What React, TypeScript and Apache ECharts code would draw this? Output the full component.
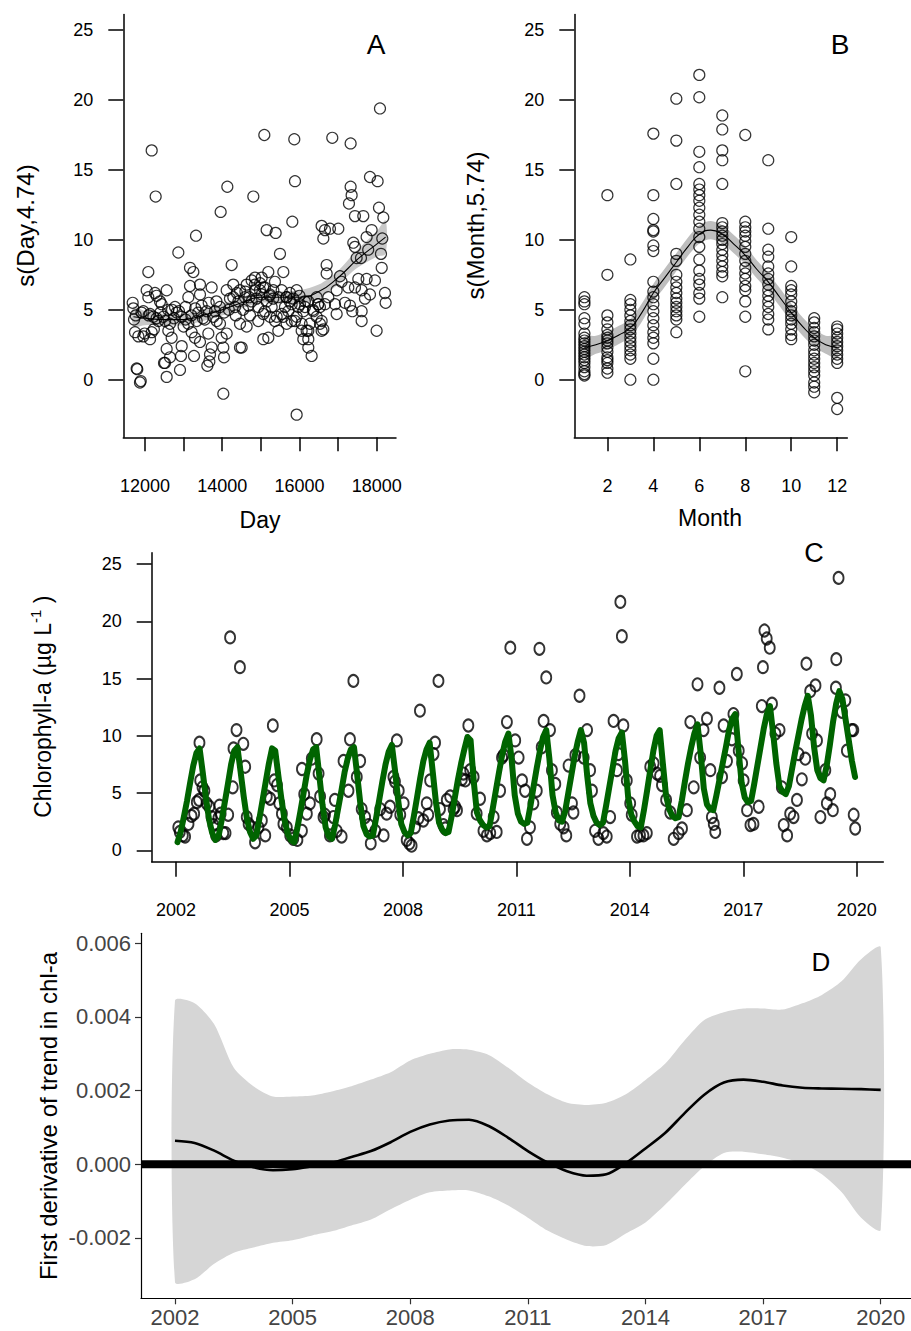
import React, { useEffect, useRef } from "react";
import * as echarts from "echarts";

const FONT = '"Liberation Sans", Arial, Helvetica, sans-serif';

// ---------- Panel A: partial residuals vs Day ----------
const dayResiduals: [number, number][] = [
  [11681, 5.5], [11698, 5.1], [11716, 4.3], [11741, 3.4], [11760, 4.6], [11784, 0.8], [11800, 0.75], [11828, 3.1],
  [11870, -0.2], [11890, -0.1], [11910, 4.8], [11957, 3.1], [11957, 4.9], [11990, 3.3], [12043, 6.4], [12086, 7.7],
  [12086, 5.9], [12095, 4.6], [12130, 2.9], [12130, 4.7], [12173, 16.4], [12173, 3.4], [12216, 4.5], [12230, 3.6],
  [12259, 6.2], [12276, 13.1], [12300, 6.0], [12345, 4.2], [12388, 5.6], [12431, 5.4], [12475, 4.5], [12492, 1.2],
  [12518, 1.2], [12561, 0.2], [12561, 2.2], [12561, 6.4], [12604, 3.5], [12647, 4.0], [12647, 1.6], [12690, 3.0],
  [12700, 5.0], [12777, 5.2], [12820, 4.8], [12863, 9.1], [12906, 0.7], [12932, 1.7], [12950, 2.4], [12950, 4.5],
  [13000, 3.8], [13050, 4.3], [13122, 4.0], [13122, 5.9], [13165, 8.0], [13165, 6.7], [13208, 3.4], [13252, 7.7],
  [13269, 1.7], [13295, 3.0], [13321, 10.3], [13338, 4.2], [13380, 4.8], [13424, 6.1], [13424, 6.8], [13424, 2.7],
  [13467, 5.3], [13500, 4.4], [13597, 4.9], [13614, 1.0], [13640, 3.3], [13666, 1.3], [13683, 1.8], [13726, 2.3],
  [13726, 6.6], [13770, 4.5], [13813, 4.9], [13856, 4.2], [13942, 5.2], [13942, 4.0], [13959, 12.0], [13985, 3.0],
  [14028, 2.3], [14028, -1.0], [14046, 1.6], [14115, 3.3], [14115, 6.4], [14132, 13.8], [14170, 5.0], [14244, 8.2],
  [14287, 6.8], [14287, 5.9], [14330, 5.2], [14380, 6.2], [14420, 5.6], [14460, 4.0], [14460, 2.3], [14460, 6.4],
  [14503, 2.3], [14540, 5.0], [14589, 5.9], [14632, 3.8], [14632, 6.8], [14680, 5.3], [14720, 4.6], [14762, 5.6],
  [14762, 7.1], [14805, 13.1], [14848, 7.3], [14848, 6.4], [14890, 5.8], [14934, 5.2], [14980, 6.9], [15021, 7.3],
  [15021, 6.1], [15064, 2.9], [15064, 4.7], [15090, 17.5], [15107, 6.6], [15150, 10.7], [15150, 5.6], [15193, 7.7],
  [15193, 3.0], [15230, 6.0], [15280, 5.2], [15320, 5.8], [15366, 7.0], [15383, 10.5], [15409, 4.5], [15452, 3.5],
  [15495, 9.0], [15539, 4.7], [15582, 7.7], [15625, 5.2], [15660, 5.9], [15711, 4.9], [15750, 5.6], [15797, 5.4],
  [15815, 11.3], [15866, 17.2], [15884, 14.2], [15884, 4.2], [15927, -2.5], [15970, 5.2], [16000, 6.0], [16057, 4.0],
  [16099, 4.9], [16140, 5.6], [16186, 3.5], [16229, 2.9], [16229, 2.3], [16272, 4.0], [16315, 1.7], [16350, 5.0],
  [16445, 5.9], [16480, 5.4], [16531, 5.2], [16574, 11.0], [16574, 4.2], [16574, 3.5], [16618, 10.1], [16661, 10.7],
  [16661, 5.4], [16704, 8.2], [16704, 7.6], [16747, 5.9], [16790, 10.8], [16850, 17.3], [16920, 5.4], [16963, 6.4],
  [16963, 4.7], [17006, 10.8], [17049, 7.4], [17090, 7.0], [17178, 5.5], [17265, 6.6], [17282, 12.6], [17308, 5.3],
  [17325, 16.9], [17325, 13.8], [17351, 13.2], [17370, 4.9], [17394, 9.8], [17437, 11.7], [17437, 9.5], [17437, 6.6],
  [17480, 8.7], [17524, 7.2], [17593, 8.7], [17610, 6.4], [17610, 4.9], [17610, 4.2], [17653, 11.7], [17696, 5.8],
  [17739, 10.2], [17739, 7.2], [17780, 9.3], [17826, 14.5], [17826, 6.1], [17869, 10.7], [17955, 7.1], [17998, 3.5],
  [18024, 14.2], [18059, 12.3], [18085, 19.4], [18111, 9.0], [18130, 8.0], [18145, 10.1], [18171, 11.6], [18214, 6.2],
  [18232, 5.5],
  [14848, 6.8], [14977, 6.4], [15064, 6.6], [15236, 6.1], [15323, 6.4], [15452, 5.9], [15539, 6.4], [15668, 5.9],
  [15754, 6.2], [15840, 5.8], [15927, 6.4], [16013, 5.4], [16143, 5.2], [16229, 5.6], [16359, 4.9], [16445, 4.5],
  [16531, 4.0], [16618, 3.6], [16488, 5.4], [15927, 4.5], [15797, 4.2], [15668, 4.0], [15582, 4.5], [15366, 4.2],
  [15236, 4.5], [15107, 4.9], [14934, 4.2], [16057, 3.5], [16229, 3.5], [16100, 2.9],
  [12300, 4.4], [12400, 4.8], [12520, 4.2], [12600, 5.0], [12750, 4.4], [12880, 4.9], [13050, 5.2], [13200, 4.6],
  [13300, 5.1], [13550, 4.3], [13650, 5.5], [13850, 5.6], [14050, 4.8], [14200, 5.8], [14350, 4.6], [14600, 6.3],
  [14700, 5.9],
];
const daySmoothDay = [11700, 12000, 12500, 13000, 13500, 14000, 14500, 15000, 15500, 16000, 16500, 17000, 17500, 18000, 18230];
const daySmoothFit = [4.5, 4.4, 4.3, 4.3, 4.6, 5.0, 5.5, 5.9, 5.9, 5.9, 6.3, 7.3, 8.6, 9.7, 10.2];
const daySmoothLo = [3.8, 3.9, 3.9, 3.9, 4.2, 4.6, 5.1, 5.5, 5.5, 5.4, 5.8, 6.8, 8.0, 8.8, 9.0];
const daySmoothHi = [5.2, 4.9, 4.7, 4.7, 5.0, 5.4, 5.9, 6.3, 6.3, 6.4, 6.8, 7.8, 9.3, 10.6, 11.4];
const dayTicks = [12000, 13000, 14000, 15000, 16000, 17000, 18000];
const dayLabels = [12000, 14000, 16000, 18000];
const residTicks = [0, 5, 10, 15, 20, 25];

// ---------- Panel B: partial residuals vs Month ----------
const monthResiduals: number[][] = [
  [5.9, 5.6, 5.4, 4.4, 4.0, 3.3, 3.0, 2.8, 2.6, 2.4, 2.2, 2.0, 1.8, 1.6, 1.4, 1.2, 0.9, 0.6, 0.4, 0.3],
  [13.2, 7.5, 4.6, 4.1, 3.6, 3.2, 3.0, 2.8, 2.6, 2.3, 2.0, 1.6, 1.4, 1.2, 0.8, 0.5],
  [8.6, 5.7, 5.4, 5.0, 4.6, 4.2, 3.9, 3.6, 3.3, 3.0, 2.7, 2.4, 2.1, 1.8, 1.5, 0.0],
  [17.6, 13.2, 11.5, 10.7, 10.6, 9.6, 9.2, 7.0, 6.3, 5.9, 5.4, 4.9, 4.4, 3.9, 3.4, 3.0, 2.6, 1.5, 0.0],
  [20.1, 17.1, 14.0, 9.0, 8.5, 7.5, 7.0, 6.6, 6.2, 5.8, 5.5, 5.2, 4.9, 4.6, 4.3, 3.4],
  [21.8, 20.2, 16.3, 15.2, 14.0, 13.6, 13.2, 12.8, 12.3, 11.8, 11.3, 10.8, 10.2, 9.5, 8.6, 7.8, 7.2, 6.8, 6.2, 5.8, 4.5],
  [18.9, 17.9, 16.4, 15.7, 14.0, 11.2, 10.9, 10.6, 10.3, 10.0, 9.7, 9.3, 8.9, 8.5, 8.1, 7.7, 7.4, 5.9],
  [17.5, 11.3, 10.9, 10.6, 10.3, 9.9, 9.5, 9.0, 8.5, 8.0, 7.6, 7.2, 6.7, 6.4, 5.6, 4.5, 0.6],
  [15.7, 10.8, 9.3, 8.8, 8.1, 7.6, 7.2, 6.8, 6.4, 6.0, 5.6, 5.2, 4.7, 4.3, 3.6],
  [10.2, 8.1, 6.7, 6.4, 6.1, 5.6, 5.2, 4.9, 4.6, 4.3, 4.0, 3.6, 3.2, 2.9],
  [4.4, 4.1, 3.7, 3.4, 3.1, 2.8, 2.5, 2.1, 1.8, 1.5, 1.2, 0.9, 0.6, 0.3, -0.2, -0.5, -0.9],
  [3.8, 3.6, 3.3, 3.0, 2.7, 2.4, 2.1, 1.8, 1.5, 1.2, -1.3, -2.1],
];
const monthGrid = [1, 1.5, 2, 2.5, 3, 3.5, 4, 4.5, 5, 5.5, 6, 6.5, 7, 7.5, 8, 8.5, 9, 9.5, 10, 10.5, 11, 11.5, 12];
const monthFit = [2.3, 2.5, 2.8, 3.2, 3.7, 4.8, 6.2, 7.3, 8.4, 9.5, 10.4, 10.7, 10.4, 9.7, 8.9, 7.9, 7.0, 5.9, 4.8, 3.8, 3.0, 2.5, 2.3];
const monthLo = [1.55, 1.85, 2.15, 2.55, 3.05, 4.15, 5.55, 6.65, 7.75, 8.85, 9.75, 10.05, 9.75, 9.05, 8.25, 7.25, 6.35, 5.25, 4.15, 3.15, 2.35, 1.85, 1.55];
const monthHi = [3.05, 3.15, 3.45, 3.85, 4.35, 5.45, 6.85, 7.95, 9.05, 10.15, 11.05, 11.35, 11.05, 10.35, 9.55, 8.55, 7.65, 6.55, 5.45, 4.45, 3.65, 3.15, 3.05];
const monthLabels = [2, 4, 6, 8, 10, 12];

// ---------- Panel C: observed chlorophyll-a and fitted values ----------
const chlObs: [number, number][] = [
  [2002.06, 2.0], [2002.10, 1.6], [2002.18, 1.3], [2002.24, 1.2], [2002.33, 2.3], [2002.41, 3.0], [2002.48, 3.2], [2002.55, 4.2],
  [2002.61, 4.4], [2002.62, 9.4], [2002.64, 6.1], [2002.70, 5.5], [2002.75, 5.2], [2002.81, 4.1], [2002.88, 3.8], [2002.94, 2.9],
  [2002.99, 2.2], [2003.06, 1.3], [2003.12, 2.8], [2003.15, 3.9], [2003.18, 3.2], [2003.25, 1.5], [2003.31, 1.5], [2003.38, 3.1],
  [2003.43, 18.6], [2003.50, 5.5], [2003.52, 8.9], [2003.60, 10.5], [2003.69, 16.0], [2003.78, 9.3], [2003.83, 7.3], [2003.87, 2.9],
  [2003.92, 2.3], [2004.00, 2.0], [2004.09, 0.7], [2004.18, 2.0], [2004.27, 2.6], [2004.36, 1.3], [2004.40, 4.7], [2004.49, 4.5],
  [2004.56, 10.9], [2004.60, 6.1], [2004.67, 5.7], [2004.73, 4.1], [2004.80, 3.2], [2004.84, 2.3], [2004.93, 2.0], [2005.02, 1.3],
  [2005.10, 1.0], [2005.21, 0.9], [2005.33, 1.7], [2005.33, 7.1], [2005.39, 4.9], [2005.46, 3.2], [2005.54, 4.1], [2005.59, 8.0],
  [2005.72, 9.7], [2005.77, 6.7], [2005.81, 4.7], [2005.90, 2.9], [2005.94, 3.1], [2006.07, 1.3], [2006.16, 2.9], [2006.20, 4.4],
  [2006.25, 1.7], [2006.38, 1.2], [2006.43, 7.8], [2006.56, 5.2], [2006.60, 9.7], [2006.69, 14.8], [2006.78, 6.4], [2006.87, 7.8],
  [2006.91, 3.6], [2007.00, 2.9], [2007.09, 2.2], [2007.15, 0.6], [2007.27, 1.7], [2007.40, 3.6], [2007.49, 1.3], [2007.57, 3.2],
  [2007.66, 3.8], [2007.75, 6.4], [2007.79, 6.0], [2007.84, 9.6], [2007.89, 5.2], [2007.93, 3.1], [2008.02, 4.1], [2008.10, 0.9],
  [2008.17, 0.6], [2008.23, 0.4], [2008.32, 2.0], [2008.41, 2.8], [2008.45, 12.2], [2008.54, 2.6], [2008.63, 4.1], [2008.67, 3.1],
  [2008.72, 6.1], [2008.81, 8.4], [2008.85, 9.4], [2008.94, 14.8], [2008.98, 3.6], [2009.07, 2.2], [2009.12, 1.9], [2009.16, 4.4],
  [2009.25, 4.7], [2009.34, 3.6], [2009.38, 3.8], [2009.43, 3.5], [2009.56, 6.2], [2009.60, 6.7], [2009.65, 6.1], [2009.73, 10.9],
  [2009.78, 7.0], [2009.87, 6.4], [2009.95, 3.2], [2010.04, 4.5], [2010.13, 1.7], [2010.22, 1.3], [2010.31, 1.5], [2010.40, 2.9],
  [2010.48, 1.6], [2010.57, 5.2], [2010.62, 8.1], [2010.66, 8.3], [2010.75, 11.2], [2010.84, 17.7], [2010.97, 9.6], [2011.06, 8.1],
  [2011.15, 6.1], [2011.23, 5.2], [2011.28, 1.0], [2011.36, 2.0], [2011.45, 4.1], [2011.54, 5.2], [2011.61, 17.6], [2011.67, 9.0],
  [2011.72, 11.3], [2011.79, 15.1], [2011.89, 10.5], [2011.94, 7.0], [2012.03, 5.8], [2012.07, 3.3], [2012.16, 2.3], [2012.25, 2.0],
  [2012.32, 1.3], [2012.38, 7.4], [2012.47, 4.1], [2012.51, 3.3], [2012.56, 8.3], [2012.67, 13.5], [2012.78, 8.1], [2012.87, 10.5],
  [2012.95, 7.0], [2013.00, 5.2], [2013.08, 1.7], [2013.17, 1.0], [2013.30, 1.5], [2013.39, 1.2], [2013.48, 2.9], [2013.57, 11.3],
  [2013.66, 7.0], [2013.70, 8.4], [2013.75, 21.7], [2013.79, 18.7], [2013.83, 10.9], [2013.92, 6.1], [2014.01, 4.1], [2014.05, 3.1],
  [2014.19, 1.2], [2014.27, 1.3], [2014.36, 1.3], [2014.45, 1.5], [2014.54, 7.3], [2014.63, 7.6], [2014.72, 6.7], [2014.80, 6.5],
  [2014.85, 5.7], [2014.96, 4.4], [2015.07, 3.3], [2015.16, 1.0], [2015.29, 1.5], [2015.38, 1.9], [2015.51, 3.5], [2015.60, 11.2],
  [2015.69, 5.5], [2015.79, 14.5], [2015.86, 8.1], [2015.95, 10.5], [2016.04, 11.5], [2016.13, 7.0], [2016.17, 2.9], [2016.22, 2.3],
  [2016.26, 1.6], [2016.37, 14.2], [2016.44, 6.4], [2016.48, 10.9], [2016.57, 7.8], [2016.70, 9.7], [2016.74, 11.9], [2016.83, 15.4],
  [2016.88, 8.7], [2016.97, 7.6], [2017.01, 6.1], [2017.10, 3.5], [2017.19, 2.2], [2017.27, 2.3], [2017.41, 3.8], [2017.49, 12.6],
  [2017.52, 16.0], [2017.56, 19.2], [2017.62, 18.5], [2017.70, 17.7], [2017.76, 12.8], [2017.85, 10.2], [2017.96, 10.5], [2018.02, 5.5],
  [2018.07, 2.2], [2018.16, 1.3], [2018.24, 3.2], [2018.33, 2.9], [2018.42, 4.4], [2018.46, 8.4], [2018.55, 6.2], [2018.64, 8.0],
  [2018.67, 16.3], [2018.77, 13.9], [2018.82, 10.2], [2018.91, 14.4], [2018.95, 9.6], [2019.04, 2.9], [2019.17, 7.0], [2019.21, 4.1],
  [2019.30, 4.9], [2019.37, 3.5], [2019.45, 14.2], [2019.46, 16.7], [2019.52, 23.8], [2019.61, 12.1], [2019.70, 13.1], [2019.74, 8.7],
  [2019.87, 10.5], [2019.91, 10.5], [2019.92, 3.1], [2019.96, 1.9],
];
const fitYears = [2002, 2003, 2004, 2005, 2006, 2007, 2008, 2009, 2010, 2011, 2012, 2013, 2014, 2015, 2016, 2017, 2018, 2019];
const fitMonthly: number[][] = [
  [0.7, 1.6, 2.9, 4.3, 5.9, 7.4, 8.5, 8.9, 6.8, 4.6, 2.7, 1.5],
  [0.9, 1.2, 2.6, 4.2, 5.8, 7.5, 8.7, 9.0, 6.9, 4.7, 2.8, 1.6],
  [1.0, 1.3, 2.8, 4.4, 6.0, 7.6, 8.9, 8.7, 6.5, 4.4, 2.6, 1.4],
  [0.9, 0.7, 1.9, 3.4, 5.0, 6.6, 7.9, 8.8, 9.0, 6.5, 4.0, 2.0],
  [1.2, 1.0, 2.2, 3.7, 5.2, 6.8, 8.0, 8.8, 9.0, 6.6, 4.1, 2.1],
  [1.4, 1.2, 1.3, 2.8, 4.4, 6.0, 7.5, 8.6, 9.2, 7.0, 4.4, 2.3],
  [1.6, 1.3, 1.5, 3.0, 4.6, 6.3, 7.8, 8.8, 9.4, 6.8, 4.2, 2.4],
  [1.8, 1.5, 1.6, 3.0, 4.6, 6.2, 7.6, 8.8, 9.9, 9.6, 6.0, 3.3],
  [2.6, 2.2, 2.0, 2.1, 3.6, 5.2, 6.8, 8.3, 9.5, 10.2, 8.0, 4.8],
  [3.2, 2.5, 2.3, 2.4, 3.9, 5.6, 7.2, 8.7, 9.9, 10.5, 8.0, 4.8],
  [3.3, 2.6, 2.5, 3.4, 5.0, 6.6, 8.2, 9.5, 10.5, 9.4, 6.5, 4.1],
  [3.0, 2.4, 2.2, 2.4, 3.9, 5.5, 7.1, 8.7, 9.8, 10.3, 7.8, 4.6],
  [3.1, 2.5, 2.1, 2.0, 3.5, 5.2, 7.0, 8.7, 10.0, 10.5, 7.6, 4.8],
  [3.6, 3.0, 2.8, 2.9, 4.3, 6.0, 7.6, 9.0, 10.2, 11.0, 8.5, 5.4],
  [4.0, 3.6, 3.5, 4.8, 6.2, 7.6, 9.0, 10.5, 11.5, 11.9, 8.8, 5.9],
  [4.6, 4.2, 4.3, 5.8, 7.4, 9.0, 10.6, 11.9, 12.6, 10.2, 7.6, 5.6],
  [5.1, 4.9, 5.6, 7.1, 8.6, 10.0, 11.4, 12.6, 13.5, 11.8, 9.0, 7.0],
  [6.3, 6.1, 7.4, 9.2, 11.2, 12.8, 13.9, 13.2, 11.4, 9.6, 7.8, 6.4],
];
const chlTicks = [2002, 2005, 2008, 2011, 2014, 2017, 2020];
const chlYTicks = [0, 5, 10, 15, 20, 25];

// ---------- Panel D: first derivative of trend ----------
const derivYears = [2002, 2002.5, 2003, 2003.5, 2004, 2004.5, 2005, 2005.5, 2006, 2006.5, 2007, 2007.5, 2008, 2008.5, 2009, 2009.5,
  2010, 2010.5, 2011, 2011.5, 2012, 2012.5, 2013, 2013.5, 2014, 2014.5, 2015, 2015.5, 2016, 2016.5, 2017, 2017.5, 2018, 2018.5,
  2019, 2019.5, 2020];
const derivUpper = [0.00444, 0.00437, 0.0038, 0.00262, 0.00212, 0.00184, 0.00184, 0.00187, 0.00198, 0.00212, 0.0023, 0.0025,
  0.00282, 0.003, 0.00312, 0.00311, 0.00297, 0.00262, 0.00222, 0.0019, 0.00167, 0.00161, 0.00167, 0.0019, 0.00229, 0.00273,
  0.00337, 0.00392, 0.00413, 0.00423, 0.00423, 0.0042, 0.00437, 0.0046, 0.00497, 0.00557, 0.00589];
const derivLower = [-0.0032, -0.00312, -0.0027, -0.0024, -0.00226, -0.00213, -0.00206, -0.00193, -0.00182, -0.00166, -0.0015,
  -0.00122, -0.00096, -0.00076, -0.00071, -0.00071, -0.00087, -0.00112, -0.00145, -0.0018, -0.00205, -0.00222, -0.00219,
  -0.00188, -0.00158, -0.0011, -0.00056, -0.00005, 0.00031, 0.00034, 0.00027, 0.00018, 0.00002, -0.00027, -0.00075, -0.00145,
  -0.00178];
const derivFit = [0.00064, 0.00058, 0.00037, 0.0001, -0.00008, -0.00016, -0.00013, -0.00005, 0.00004, 0.0002, 0.00036, 0.0006,
  0.00088, 0.00108, 0.00119, 0.00121, 0.00104, 0.00072, 0.00036, 0.00005, -0.00019, -0.00031, -0.00027, 0.00003, 0.00043,
  0.00085, 0.00139, 0.00189, 0.00222, 0.0023, 0.00224, 0.00214, 0.00208, 0.00206, 0.00205, 0.00204, 0.00202];
const derivXTicks = [2002, 2005, 2008, 2011, 2014, 2017, 2020];
const derivYTicks = [-0.002, 0, 0.002, 0.004, 0.006];

// ---------- helpers ----------
function valueAxis(gridIndex: number, min: number, max: number, ticks: number[], labels: number[], o: any) {
  return {
    type: "value",
    gridIndex,
    min,
    max,
    axisLine: { show: true, onZero: false, lineStyle: { color: "#000", width: o.lineWidth } },
    axisTick: { show: true, length: o.tickLen, customValues: ticks, lineStyle: { color: o.tickColor || "#000", width: o.lineWidth } },
    axisLabel: {
      show: true,
      customValues: labels,
      margin: o.margin,
      fontSize: o.fontSize,
      fontFamily: FONT,
      color: o.color || "#000",
      formatter: o.formatter || ((v: number) => String(v)),
    },
    splitLine: { show: false },
  };
}

function bandSeries(xAxisIndex: number, xs: number[], lo: number[], hi: number[], fill: string, smooth: number) {
  const rows = xs.map((x, i) => [x, lo[i], hi[i]]);
  return {
    type: "custom",
    xAxisIndex,
    yAxisIndex: xAxisIndex,
    silent: true,
    data: rows,
    encode: { x: 0, y: [1, 2] },
    renderItem: (params: any, api: any) => {
      if (params.dataIndex !== 0) return null;
      const pts: number[][] = [];
      for (let i = 0; i < rows.length; i++) pts.push(api.coord([rows[i][0], rows[i][2]]));
      for (let i = rows.length - 1; i >= 0; i--) pts.push(api.coord([rows[i][0], rows[i][1]]));
      return { type: "polygon", shape: { points: pts, smooth }, style: { fill, stroke: null } };
    },
  };
}

function text(x: number, y: number, str: string, size: number, rotate = false, extra: any = {}) {
  return {
    type: "text",
    x,
    y,
    rotation: rotate ? Math.PI / 2 : 0,
    silent: true,
    style: {
      text: str,
      fontSize: size,
      fontFamily: FONT,
      fill: "#000",
      align: "center",
      verticalAlign: "middle",
      textAlign: "center",
      textVerticalAlign: "middle",
      ...extra,
    },
  };
}

function buildOption() {
  const abAxis = { lineWidth: 1.5, tickLen: 14, fontSize: 18 };
  const monthPoints: number[][] = [];
  monthResiduals.forEach((vals, i) => vals.forEach((v) => monthPoints.push([i + 1, v])));
  const fitData: number[][] = [];
  fitYears.forEach((y, yi) => fitMonthly[yi].forEach((v, m) => fitData.push([y + m / 12 + 0.04, v])));

  const openCircle = { color: "rgba(0,0,0,0)", borderColor: "#000", borderWidth: 1.2 };

  return {
    animation: false,
    backgroundColor: "#fff",
    grid: [
      { left: 123.3, top: 14.5, width: 272.7, height: 422.8, containLabel: false, outerBoundsMode: "none" },
      { left: 574.3, top: 14.5, width: 273, height: 422.8, containLabel: false, outerBoundsMode: "none" },
      { left: 151.7, top: 552.7, width: 731.6, height: 309, containLabel: false, outerBoundsMode: "none" },
      { left: 141, top: 933.3, width: 775, height: 365, containLabel: false, outerBoundsMode: "none" },
    ],
    xAxis: [
      valueAxis(0, 11438, 18500, dayTicks, dayLabels, { ...abAxis, margin: 40 }),
      valueAxis(1, 0.56, 12.44, monthLabels, monthLabels, { ...abAxis, margin: 40 }),
      valueAxis(2, 2001.357, 2020.703, chlTicks, chlTicks, { lineWidth: 1.5, tickLen: 15, fontSize: 18, margin: 39 }),
      valueAxis(3, 2001.133, 2020.9, derivXTicks, derivXTicks, {
        lineWidth: 1.2, tickLen: 6, fontSize: 22, margin: 8, color: "#444", tickColor: "#333",
      }),
    ],
    yAxis: [
      valueAxis(0, -4.12, 26.12, residTicks, residTicks, { ...abAxis, tickLen: 15, margin: 30 }),
      valueAxis(1, -4.12, 26.12, residTicks, residTicks, { ...abAxis, tickLen: 15, margin: 30 }),
      valueAxis(2, -1, 26, chlYTicks, chlYTicks, { lineWidth: 1.5, tickLen: 15, fontSize: 18, margin: 30 }),
      valueAxis(3, -0.003638, 0.006272, derivYTicks, derivYTicks, {
        lineWidth: 1.2, tickLen: 6, fontSize: 22, margin: 10, color: "#444", tickColor: "#333",
        formatter: (v: number) => v.toFixed(3),
      }),
    ],
    series: [
      // Panel A
      bandSeries(0, daySmoothDay, daySmoothLo, daySmoothHi, "#C8C8C8", 0.3),
      {
        type: "scatter", xAxisIndex: 0, yAxisIndex: 0, silent: true, symbol: "circle", symbolSize: 11,
        itemStyle: openCircle, data: dayResiduals,
      },
      {
        type: "line", xAxisIndex: 0, yAxisIndex: 0, silent: true, smooth: true, symbol: "none",
        lineStyle: { color: "#000", width: 1.1 }, data: daySmoothDay.map((d, i) => [d, daySmoothFit[i]]),
      },
      // Panel B
      bandSeries(1, monthGrid, monthLo, monthHi, "#BEBEBE", 0.3),
      {
        type: "scatter", xAxisIndex: 1, yAxisIndex: 1, silent: true, symbol: "circle", symbolSize: 11,
        itemStyle: openCircle, data: monthPoints,
      },
      {
        type: "line", xAxisIndex: 1, yAxisIndex: 1, silent: true, smooth: true, symbol: "none",
        lineStyle: { color: "#000", width: 1.1 }, data: monthGrid.map((m, i) => [m, monthFit[i]]),
      },
      // Panel C
      {
        type: "scatter", xAxisIndex: 2, yAxisIndex: 2, silent: true, symbol: "circle", symbolSize: [10, 12],
        itemStyle: { color: "rgba(0,0,0,0)", borderColor: "#000", borderWidth: 2 }, data: chlObs,
      },
      {
        type: "line", xAxisIndex: 2, yAxisIndex: 2, silent: true, smooth: false, symbol: "none",
        lineStyle: { color: "#006400", width: 6, cap: "round", join: "round" }, data: fitData,
      },
      // Panel D
      bandSeries(3, derivYears, derivLower, derivUpper, "#D6D6D6", 0.25),
      {
        type: "line", xAxisIndex: 3, yAxisIndex: 3, silent: true, smooth: false, symbol: "none",
        lineStyle: { color: "#000", width: 8 }, data: [[2001.133, 0], [2020.9, 0]],
      },
      {
        type: "line", xAxisIndex: 3, yAxisIndex: 3, silent: true, smooth: 0.3, symbol: "none",
        lineStyle: { color: "#000", width: 2.6 }, data: derivYears.map((y, i) => [y, derivFit[i]]),
      },
    ],
    graphic: [
      text(25, 225.5, "s(Day,4.74)", 24, true),
      text(260, 520, "Day", 23),
      text(376, 44.8, "A", 28),
      text(475, 225.5, "s(Month,5.74)", 24, true),
      text(710, 518, "Month", 23),
      text(840, 44.8, "B", 28),
      text(43, 706.7, "Chlorophyll-a (µg L{sup|-1} )", 23, true, {
        rich: {
          sup: { fontSize: 15, fontFamily: FONT, fill: "#000", verticalAlign: "top", lineHeight: 30 },
        },
        lineHeight: 30,
      }),
      text(814, 553, "C", 27),
      text(48, 1116, "First derivative of trend in chl-a", 24, true),
      text(821, 962, "D", 26),
    ],
  };
}

export default function App() {
  const ref = useRef<HTMLDivElement>(null);
  useEffect(() => {
    if (!ref.current) return;
    const chart = echarts.init(ref.current, undefined, { renderer: "svg" });
    chart.setOption(buildOption() as any);
    return () => chart.dispose();
  }, []);
  return (
    <div
      ref={ref}
      style={{ position: "absolute", left: 0, top: 0, width: 911, height: 1331, background: "#fff" }}
    />
  );
}
